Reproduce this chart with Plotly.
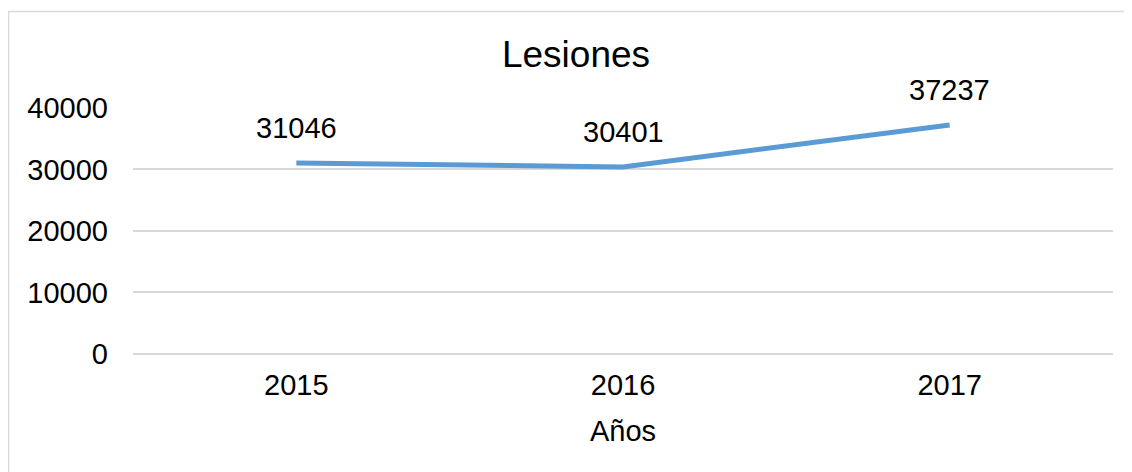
import plotly.graph_objects as go

years = ["2015", "2016", "2017"]
lesiones = [31046, 30401, 37237]
y_ticks = [0, 10000, 20000, 30000, 40000]
y_max = 40150

# the page body adds an 8px offset; figure is sized to fit the window
OFF = 8
W, H = 1132 - OFF, 472 - OFF
L, T = 133 - OFF, 107 - OFF
R = W - (1113 - OFF)
B = H - (354 - OFF)
pw, ph = W - L - R, H - T - B

def px_to_paper_x(px):
    return (px - OFF - L) / pw

def px_to_paper_y(py):
    return (H - B - (py - OFF)) / ph

font = "Liberation Sans, Arial, sans-serif"

fig = go.Figure()
fig.add_trace(go.Scatter(
    x=years, y=lesiones, mode="lines",
    line=dict(color="#5B9BD5", width=5),
    hoverinfo="x+y", showlegend=False, cliponaxis=False,
))

for i, yv in enumerate(lesiones):
    fig.add_annotation(x=i, y=yv, xref="x", yref="y", text=str(yv), showarrow=False,
                       yshift=35, font=dict(family=font, size=29, color="#000000"))

fig.add_shape(type="rect", xref="paper", yref="paper",
              x0=px_to_paper_x(8.5), x1=px_to_paper_x(1200),
              y0=px_to_paper_y(520), y1=px_to_paper_y(11.5),
              line=dict(color="#d9d9d9", width=1.5), layer="below")

fig.update_layout(
    width=W, height=H,
    margin=dict(l=L, r=R, t=T, b=B, pad=0, autoexpand=False),
    paper_bgcolor="white", plot_bgcolor="white",
    font=dict(family=font, size=29, color="#000000"),
    title=dict(text="Lesiones", x=(576 - OFF) / W, xref="container", xanchor="center",
               y=1 - (54 - OFF) / H, yref="container", yanchor="middle",
               font=dict(family=font, size=37, color="#000000")),
    xaxis=dict(type="category", range=[-0.5, len(years) - 0.5],
               showgrid=False, showline=False, zeroline=False, automargin=False,
               ticks="", ticklabelstandoff=11,
               title=dict(text="Años", font=dict(family=font, size=29, color="#000000"), standoff=20),
               tickfont=dict(family=font, size=29, color="#000000")),
    yaxis=dict(range=[0, y_max], tickvals=y_ticks, ticktext=[str(v) for v in y_ticks],
               showgrid=True, gridcolor="#d9d9d9", gridwidth=2, automargin=False,
               zeroline=True, zerolinecolor="#d9d9d9", zerolinewidth=2,
               showline=False, ticks="", ticklabelstandoff=24,
               tickfont=dict(family=font, size=29, color="#000000")),
)

fig.write_html("out.html")
